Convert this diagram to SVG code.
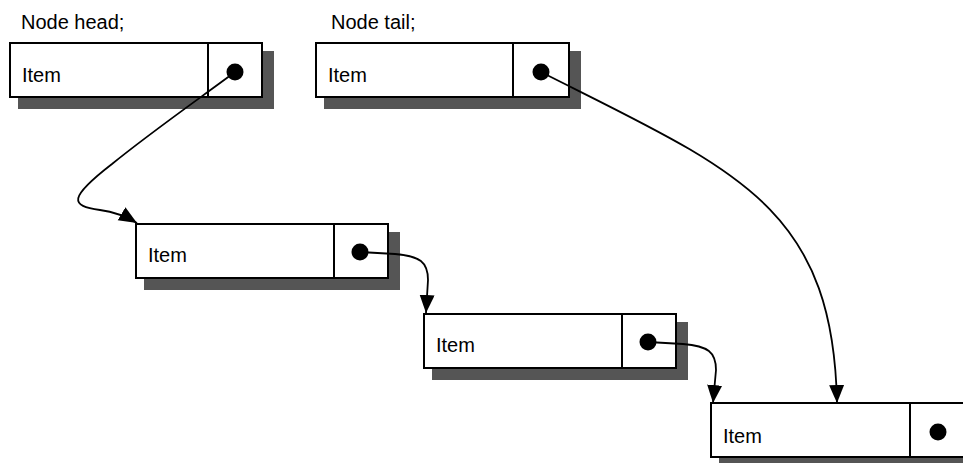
<svg xmlns="http://www.w3.org/2000/svg" width="963" height="463" viewBox="0 0 963 463">
  <style>
    .shadow { fill: #555555; }
    .box { fill: #ffffff; stroke: #000000; stroke-width: 2; }
    .div { stroke: #000000; stroke-width: 2; }
    .dot { fill: #000000; }
    .label { font-family: "Liberation Sans", Arial, sans-serif; font-size: 20px; fill: #000000; }
    .link { fill: none; stroke: #000000; stroke-width: 1.8; marker-end: url(#arrow); }
  </style>
  <defs>
    <marker id="arrow" markerUnits="userSpaceOnUse" markerWidth="20" markerHeight="16" refX="18" refY="7.5" orient="auto">
      <path d="M0,0 L18,7.5 L0,15 z" fill="#000000"/>
    </marker>
  </defs>
  <rect width="963" height="463" fill="#ffffff"/>

  <text class="label" x="21" y="29">Node head;</text>
  <text class="label" x="331" y="29">Node tail;</text>

  <!-- list nodes: value field + pointer field with drop shadow -->
  <g id="node-head">
    <rect class="shadow" x="18" y="51" width="256" height="58"/>
    <rect class="box" x="10" y="43" width="252" height="54"/>
    <line class="div" x1="208" y1="43" x2="208" y2="97"/>
    <circle class="dot" cx="235" cy="72" r="8.5"/>
    <text class="label" x="22" y="82">Item</text>
  </g>
  <g id="node-tail">
    <rect class="shadow" x="324" y="51" width="257" height="58"/>
    <rect class="box" x="316" y="43" width="253" height="54"/>
    <line class="div" x1="513" y1="43" x2="513" y2="97"/>
    <circle class="dot" cx="541" cy="72" r="8.5"/>
    <text class="label" x="328" y="82">Item</text>
  </g>
  <g id="node-1">
    <rect class="shadow" x="144" y="232" width="256" height="58"/>
    <rect class="box" x="136" y="224" width="252" height="54"/>
    <line class="div" x1="334" y1="224" x2="334" y2="278"/>
    <circle class="dot" cx="360" cy="252" r="8.5"/>
    <text class="label" x="148" y="262">Item</text>
  </g>
  <g id="node-2">
    <rect class="shadow" x="432" y="322" width="256" height="58"/>
    <rect class="box" x="424" y="314" width="252" height="54"/>
    <line class="div" x1="622" y1="314" x2="622" y2="368"/>
    <circle class="dot" cx="648" cy="342" r="8.5"/>
    <text class="label" x="436" y="352">Item</text>
  </g>
  <g id="node-3">
    <rect class="shadow" x="719" y="411" width="264" height="58"/>
    <rect class="box" x="711" y="403" width="260" height="54"/>
    <line class="div" x1="910" y1="403" x2="910" y2="457"/>
    <circle class="dot" cx="938" cy="432" r="8.5"/>
    <text class="label" x="723" y="443">Item</text>
  </g>

  <!-- next pointers -->
  <g id="links">
    <path class="link" d="M235,72 C200,98 150,133 112,164 C68,198 70,206 100,210 C115,212 127,217 137,223"/>
    <path class="link" d="M541,72 C735,170 833,205 837,403"/>
    <path class="link" d="M360,252 L395,254 C420,256 428,262 428,280 L426,313"/>
    <path class="link" d="M648,342 L683,344 C708,346 716,352 716,370 L713,403"/>
  </g>
</svg>
